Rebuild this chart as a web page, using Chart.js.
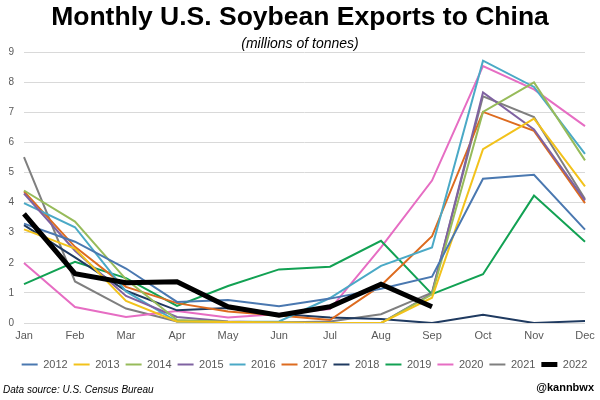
<!DOCTYPE html>
<html lang="en">
<head>
    <meta charset="UTF-8">
    <title>Monthly U.S. Soybean Exports to China</title>
    <script src="https://cdn.jsdelivr.net/npm/chart.js"></script>
    <style>
        body {
            margin: 0;
            background: #ffffff;
            font-family: "Liberation Sans", Arial, sans-serif;
        }

        .wrap {
            position: relative;
            width: 600px;
            height: 400px;
        }

        .title {
            position: absolute;
            top: 1px;
            left: 0;
            width: 600px;
            text-align: center;
            font-size: 26.5px;
            font-weight: bold;
            color: #000;
        }

        .subtitle {
            position: absolute;
            top: 35px;
            left: 0;
            width: 600px;
            text-align: center;
            font-size: 14px;
            font-style: italic;
            color: #000;
        }

        .source {
            position: absolute;
            left: 3px;
            top: 384px;
            font-size: 10px;
            font-style: italic;
            color: #000;
        }

        .handle {
            position: absolute;
            right: 6px;
            top: 381px;
            font-size: 11px;
            font-weight: bold;
            color: #000;
        }

        canvas {
            position: absolute;
            left: 0;
            top: 0;
        }
    </style>
</head>
<body>
    <div class="wrap">
        <canvas id="chart" width="600" height="400"></canvas>
        <div class="title">Monthly U.S. Soybean Exports to China</div>
        <div class="subtitle">(millions of tonnes)</div>
        <div class="source">Data source: U.S. Census Bureau</div>
        <div class="handle">@kannbwx</div>
    </div>

    <script>
        // Data (millions of tonnes)
        const months = ['Jan', 'Feb', 'Mar', 'Apr', 'May', 'Jun', 'Jul', 'Aug', 'Sep', 'Oct', 'Nov', 'Dec'];
        const years = ['2012', '2013', '2014', '2015', '2016', '2017', '2018', '2019', '2020', '2021', '2022'];

        const y2012 = [3.3, 2.7, 1.81, 0.7, 0.76, 0.56, 0.81, 1.14, 1.54, 4.79, 4.92, 3.1];
        const y2013 = [3.11, 2.47, 0.73, 0.05, 0.03, 0.02, 0.0, 0.0, 0.84, 5.77, 6.79, 4.54];
        const y2014 = [4.4, 3.37, 1.45, 0.1, 0.04, 0.02, 0.0, 0.0, 0.95, 7.01, 7.99, 5.4];
        const y2015 = [4.3, 2.4, 0.9, 0.2, 0.05, 0.02, 0.0, 0.0, 0.98, 7.66, 6.43, 4.07];
        const y2016 = [3.98, 3.18, 1.05, 0.05, 0.03, 0.05, 0.83, 1.9, 2.51, 8.71, 7.84, 5.62];
        const y2017 = [4.37, 2.53, 1.2, 0.66, 0.38, 0.25, 0.1, 1.25, 2.88, 7.01, 6.38, 3.98];
        const y2018 = [3.25, 2.18, 1.07, 0.42, 0.5, 0.3, 0.18, 0.13, 0.0, 0.27, 0.0, 0.07];
        const y2019 = [1.29, 2.03, 1.49, 0.57, 1.23, 1.78, 1.87, 2.73, 0.96, 1.62, 4.23, 2.7];
        const y2020 = [1.99, 0.53, 0.2, 0.4, 0.18, 0.3, 0.46, 2.51, 4.73, 8.53, 7.76, 6.54];
        const y2021 = [5.51, 1.38, 0.48, 0.05, 0.03, 0.02, 0.05, 0.29, 1.01, 7.53, 6.84, 4.12];
        const y2022 = [3.62, 1.64, 1.34, 1.37, 0.54, 0.26, 0.54, 1.29, 0.54, null, null, null];

        const yTicks = [0, 1, 2, 3, 4, 5, 6, 7, 8, 9];

        const seriesValues = [y2012, y2013, y2014, y2015, y2016, y2017, y2018, y2019, y2020, y2021, y2022];
        const colors = ['#4a78b0', '#f2c21b', '#97bb5a', '#7f62a1', '#4aa9c6', '#dd6b1f',
            '#1f3a60', '#12a153', '#e66dc3', '#7f7f7f', '#000000'];

        const font = '"Liberation Sans", Arial, sans-serif';

        const datasets = years.map((yr, i) => ({
            label: yr,
            data: seriesValues[i],
            borderColor: colors[i],
            backgroundColor: colors[i],
            borderWidth: yr === '2022' ? 5 : 2,
            pointRadius: 0,
            pointHoverRadius: 0,
            tension: 0,
            fill: false,
            // 2022 drawn on top of the rest
            order: yr === '2022' ? 0 : 1
        }));

        // nudge the legend so it sits centred under the plot area
        const legendShift = {
            id: 'legendShift',
            afterLayout(chart) {
                const lg = chart.legend;
                if (lg) {
                    lg.left += 12;
                    lg.right += 12;
                }
            }
        };

        new Chart(document.getElementById('chart'), {
            type: 'line',
            data: { labels: months, datasets: datasets },
            plugins: [legendShift],
            options: {
                responsive: false,
                animation: false,
                layout: {
                    padding: { top: 52, right: 15, bottom: 20, left: 0 }
                },
                plugins: {
                    legend: {
                        position: 'bottom',
                        labels: {
                            usePointStyle: true,
                            pointStyle: 'line',
                            pointStyleWidth: 16,
                            boxHeight: 6,
                            padding: 6,
                            color: '#595959',
                            font: { family: font, size: 11 },
                            sort: (a, b) => a.datasetIndex - b.datasetIndex
                        }
                    },
                    tooltip: { enabled: false }
                },
                scales: {
                    x: {
                        offset: false,
                        afterFit: s => { s.height = 30; },
                        grid: { display: false },
                        border: { display: false },
                        ticks: {
                            color: '#595959',
                            padding: -2,
                            maxRotation: 0,
                            font: { family: font, size: 11 }
                        }
                    },
                    y: {
                        min: 0,
                        max: 9,
                        afterFit: s => { s.width = 24; },
                        afterBuildTicks: s => { s.ticks = yTicks.map(v => ({ value: v })); },
                        grid: { color: '#d9d9d9', drawTicks: false },
                        border: { display: false },
                        ticks: {
                            color: '#595959',
                            padding: 10,
                            font: { family: font, size: 10 }
                        }
                    }
                }
            }
        });
    </script>
</body>
</html>
